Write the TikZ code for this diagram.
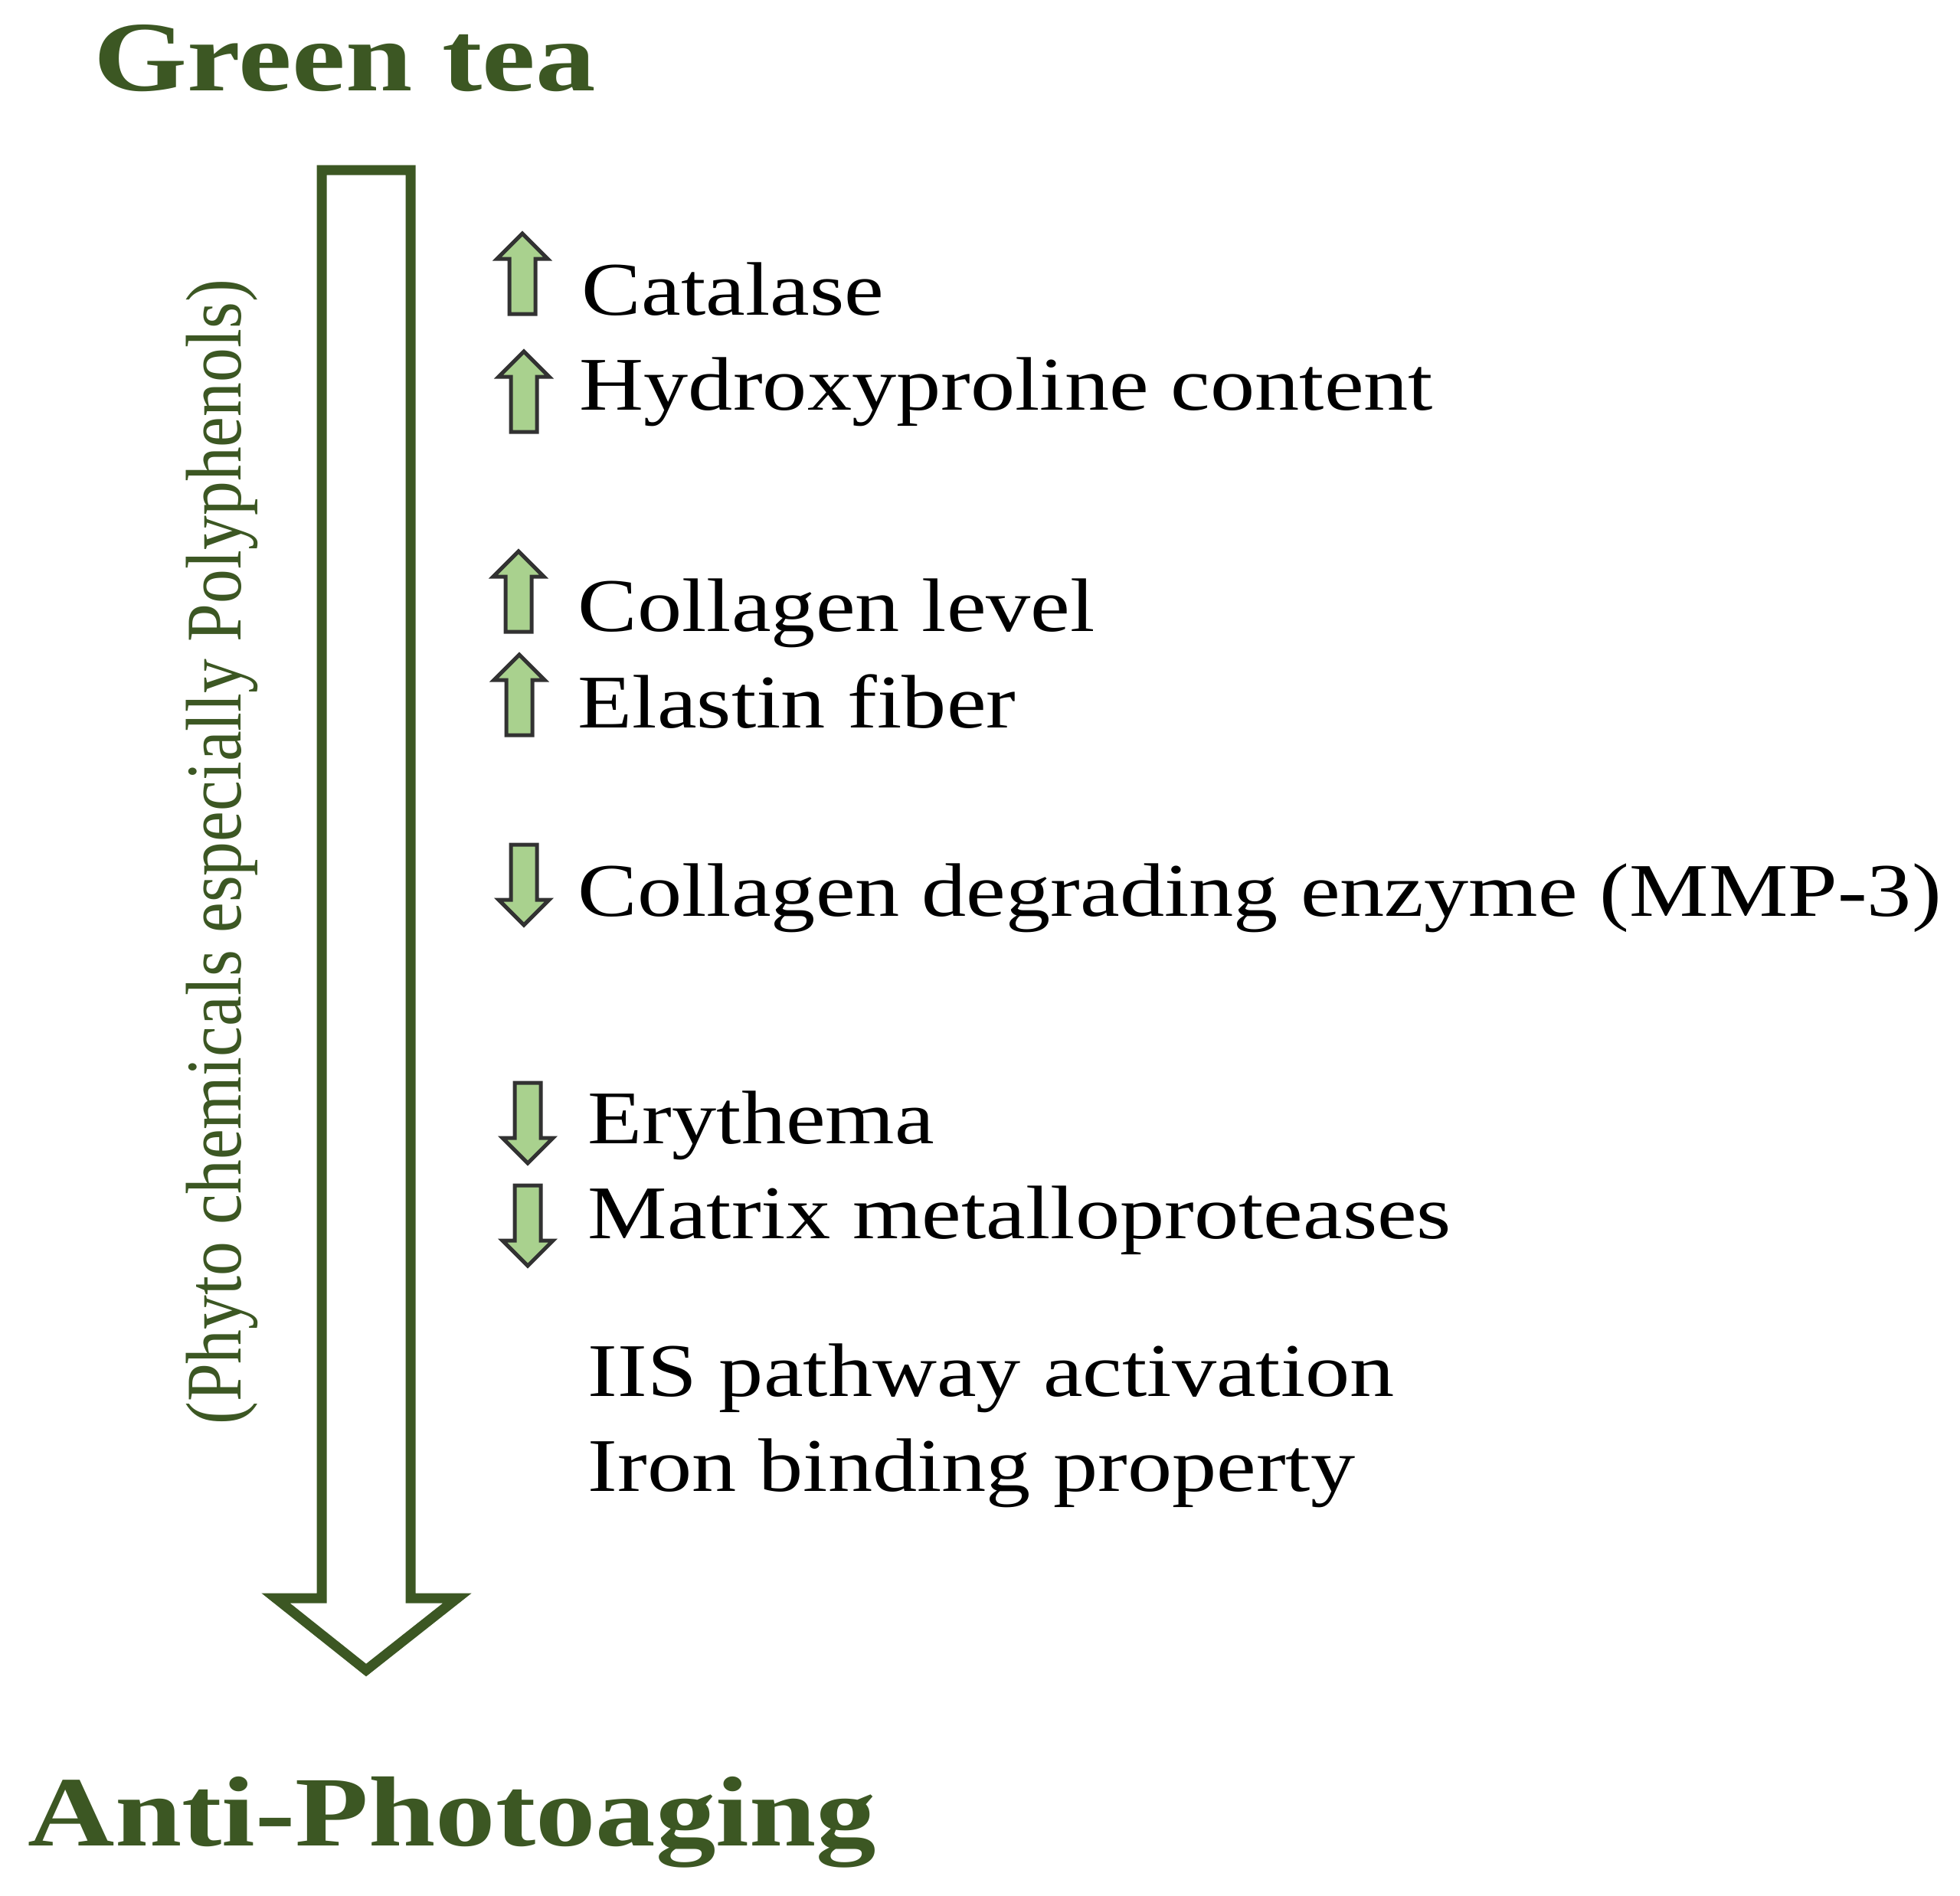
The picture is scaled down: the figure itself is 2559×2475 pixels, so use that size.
\documentclass[tikz,border=0pt]{standalone}
\usepackage{fontspec}
\setmainfont{Liberation Serif}[FakeStretch=1.175]
\newfontfamily\plainserif{Liberation Serif}
\newfontfamily\titleserif{Liberation Serif}[FakeStretch=1.207]
\usepackage{xcolor}
\usepackage{tikz}

\definecolor{teagreen}{RGB}{60,87,35}
\definecolor{leafgreen}{RGB}{169,209,142}
\definecolor{arrowgray}{RGB}{50,50,50}

\begin{document}
\begin{tikzpicture}[x=0.25pt,y=-0.25pt,
    title/.style={anchor=base west,inner sep=0pt,text=teagreen,font=\titleserif\fontsize{32.5}{39}\selectfont\bfseries},
    item/.style={anchor=base west,inner sep=0pt,font=\fontsize{24.75}{30}\selectfont},
    smallarrow/.style={draw=arrowgray,fill=leafgreen,line width=1.25pt,line join=miter},
    uparrow/.pic={\draw[smallarrow] (-17,0) -- (-17,-72) -- (-33,-72) -- (0,-105) -- (33,-72) -- (17,-72) -- (17,0) -- cycle;},
    downarrow/.pic={\draw[smallarrow] (-17,0) -- (-17,72) -- (-33,72) -- (0,105) -- (33,72) -- (17,72) -- (17,0) -- cycle;}]
    \useasboundingbox (0,0) rectangle (2559,2475);

    % titles
    \node[title] (green) at (122,118) {Green tea};
    \node[title] (anti) at (36,2410) {Anti-Photoaging};

    % big hollow arrow
    \draw[teagreen,line width=3.25pt,line join=miter] (420,222) -- (536,222) -- (536,2087) -- (597,2087)
        -- (478,2181) -- (360,2087) -- (420,2087) -- cycle;
    \node[rotate=90,inner sep=0pt,text=teagreen,font=\plainserif\fontsize{22.4}{26}\selectfont] (phyto) at (290,1113)
        {\scalebox{1}[1.15]{(Phyto chemicals especially Polyphenols)}};

    % effects
    \pic at (682,410) {uparrow};
    \node[item] (cat) at (759,411) {Catalase};
    \pic at (684,564) {uparrow};
    \node[item] (hyp) at (756,535) {Hydroxyproline content};
    \pic at (677,825) {uparrow};
    \node[item] (col) at (754,824) {Collagen level};
    \pic at (678,960) {uparrow};
    \node[item] (ela) at (754,950) {Elastin fiber};
    \pic at (684,1103) {downarrow};
    \node[item] (mmp) at (754,1196) {Collagen degrading enzyme (MMP-3)};
    \pic at (689,1414) {downarrow};
    \node[item] (ery) at (767,1493) {Erythema};
    \pic at (689,1548) {downarrow};
    \node[item] (mat) at (767,1617) {Matrix metalloproteases};
    \node[item] (iis) at (767,1823) {IIS pathway activation};
    \node[item] (iron) at (767,1947) {Iron binding property};
\end{tikzpicture}
\end{document}
